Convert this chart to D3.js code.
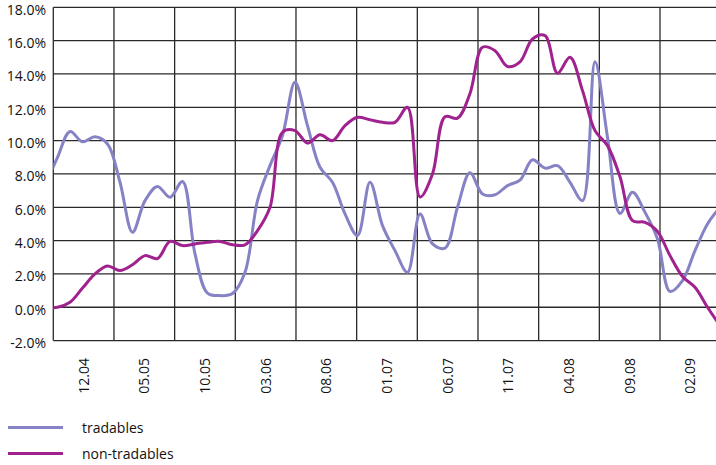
<!DOCTYPE html>
<html lang="en">

<head>
  <meta charset="UTF-8">
  <title>Tradables vs non-tradables</title>
  <script src="https://d3js.org/d3.v7.min.js"></script>
  <style>
    body {
      margin: 0;
      background: #fff;
    }

    text {
      font-family: 'Open Sans', sans-serif;
      font-size: 14px;
      fill: #111;
    }

    .grid {
      stroke: #2a2a2a;
      stroke-width: 1.3px;
    }

    .series {
      fill: none;
      stroke-width: 3px;
      stroke-linejoin: round;
      stroke-linecap: round;
    }
  </style>
</head>

<body>
  <div id="chart"></div>

  <script>
    // category labels (one every 5 months)
    const periodLabels = ['12.04', '05.05', '10.05', '03.06', '08.06', '01.07',
      '06.07', '11.07', '04.08', '09.08', '02.09'];

    // y axis ticks
    const yTicks = [-2, 0, 2, 4, 6, 8, 10, 12, 14, 16, 18];

    // monthly values, %
    const tradables = [7.3, 9.0, 10.55, 9.93, 10.23, 9.8, 7.5, 4.5, 6.4, 7.25,
      6.6, 7.55, 3.2, 0.85, 0.7, 0.82, 2.1, 6.4, 8.5, 10.3,
      13.5, 10.9, 8.4, 7.5, 5.6, 4.3, 7.5, 4.9, 3.4, 2.1,
      5.6, 3.8, 3.55, 6.0, 8.07, 6.8, 6.75, 7.3, 7.63, 8.85,
      8.35, 8.5, 7.5, 6.4, 14.73, 10.2, 5.63, 6.9, 5.7, 4.1,
      0.95, 1.6, 3.4, 5.0, 6.0];

    const nonTradables = [0.0, 0.0, 0.3, 1.15, 2.0, 2.48, 2.2, 2.55, 3.1, 2.92,
      3.95, 3.7, 3.8, 3.9, 3.95, 3.75, 3.75, 4.6, 6.0, 10.5,
      10.6, 9.85, 10.35, 10.0, 10.9, 11.4, 11.25, 11.1, 11.1, 12.0,
      6.62, 8.0, 11.43, 11.35, 12.83, 15.6, 15.4, 14.45, 14.73, 16.1,
      16.3, 14.05, 15.0, 13.0, 10.6, 9.7, 7.83, 5.2, 5.1, 4.55,
      3.1, 1.85, 1.2, 0.0, -1.1];

    const seriesNames = ['tradables', 'non-tradables'];
    const seriesColors = ['#8682c6', '#a0228f'];

    const width = 716;
    const height = 465;
    const plotLeft = 53.3;
    const plotTop = 7.3;
    const plotBottom = 340.6;
    const bandW = 60.67;

    const svg = d3.select('#chart').append('svg')
      .attr('width', width)
      .attr('height', height);

    // scales
    const y = d3.scaleLinear().domain([-2, 18]).range([plotBottom, plotTop]);
    const xBand = d3.scaleBand()
      .domain(periodLabels)
      .range([plotLeft, plotLeft + periodLabels.length * bandW])
      .padding(0);
    // data points: first one sits just left of the axis and gets clipped
    const xMonth = d3.scaleLinear()
      .domain([-1, tradables.length - 2])
      .range([45, 45 + (tradables.length - 1) * 12.5]);

    // horizontal gridlines
    svg.selectAll('.hgrid')
      .data(yTicks)
      .enter().append('line')
      .attr('class', 'grid')
      .attr('x1', plotLeft)
      .attr('x2', width)
      .attr('y1', d => y(d))
      .attr('y2', d => y(d));

    // vertical gridlines at the band edges
    const edges = periodLabels.map(d => xBand(d)).concat([xBand.range()[1]]);
    svg.selectAll('.vgrid')
      .data(edges)
      .enter().append('line')
      .attr('class', 'grid')
      .attr('x1', d => d)
      .attr('x2', d => d)
      .attr('y1', plotTop)
      .attr('y2', plotBottom);

    // y labels
    svg.selectAll('.ylab')
      .data(yTicks)
      .enter().append('text')
      .attr('x', 46)
      .attr('y', d => y(d) + 7.5)
      .attr('text-anchor', 'end')
      .text(d => d.toFixed(1) + '%');

    // x labels, rotated
    svg.selectAll('.xlab')
      .data(periodLabels)
      .enter().append('text')
      .attr('text-anchor', 'end')
      .attr('transform', d => `translate(${xBand(d) + xBand.bandwidth() / 2},358) rotate(-90)`)
      .attr('dy', '0.36em')
      .text(d => d);

    // clip lines to the plot area
    svg.append('defs').append('clipPath')
      .attr('id', 'plot')
      .append('rect')
      .attr('x', plotLeft)
      .attr('y', 0)
      .attr('width', width - plotLeft)
      .attr('height', plotBottom + 5);

    const line = d3.line()
      .x((d, i) => xMonth(i - 1))
      .y(d => y(d))
      .curve(d3.curveCatmullRom.alpha(0.5));

    [tradables, nonTradables].forEach((s, k) => {
      svg.append('path')
        .datum(s)
        .attr('class', 'series')
        .attr('clip-path', 'url(#plot)')
        .attr('stroke', seriesColors[k])
        .attr('d', line);
    });

    // legend
    const legend = svg.selectAll('.legend')
      .data(seriesNames)
      .enter().append('g')
      .attr('transform', (d, i) => `translate(0,${427.5 + i * 26})`);

    legend.append('line')
      .attr('x1', 8)
      .attr('x2', 63)
      .attr('stroke', (d, i) => seriesColors[i])
      .attr('stroke-width', 3);

    legend.append('text')
      .attr('x', 82)
      .attr('y', 5.5)
      .text(d => d);
  </script>

</body>

</html>
